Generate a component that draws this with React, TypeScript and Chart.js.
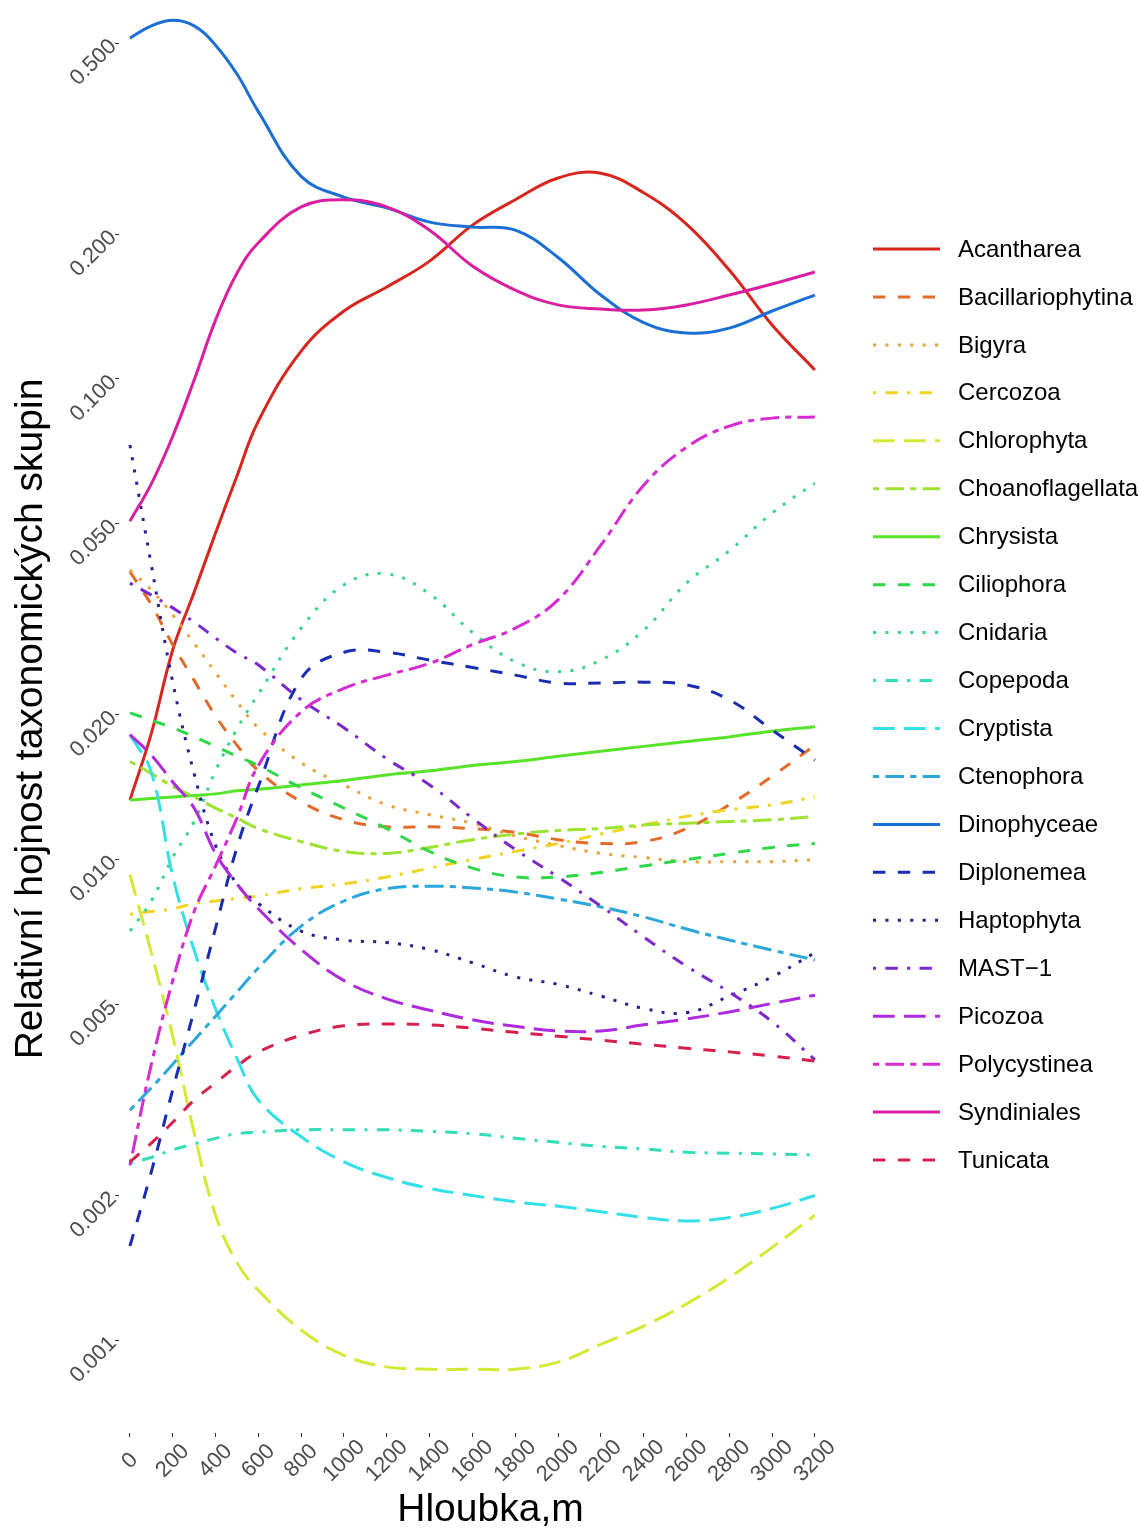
import { useEffect, useRef } from "react";
import { Chart, registerables } from "chart.js";

Chart.register(...registerables);

// Depth (m) at which each smoothed abundance profile is sampled
const depths = [0, 100, 200, 300, 400, 500, 600, 800, 1000, 1200, 1400, 1600, 1800, 2000, 2200, 2400, 2600, 2800, 3000, 3200];

// Relative abundance of each taxonomic group along depth
const acantharea = [0.0133, 0.0183, 0.0273, 0.036, 0.0478, 0.0628, 0.0817, 0.1143, 0.1385, 0.1554, 0.1759, 0.209, 0.236, 0.262, 0.268, 0.244, 0.21, 0.1685, 0.1295, 0.1044];
const bacillariophytina = [0.0397, 0.0339, 0.028, 0.0236, 0.0199, 0.0173, 0.0153, 0.0132, 0.0121, 0.0117, 0.0117, 0.0116, 0.0114, 0.011, 0.0108, 0.0109, 0.0116, 0.013, 0.0149, 0.0173];
const bigyra = [0.04, 0.0364, 0.0323, 0.0282, 0.0245, 0.0213, 0.0188, 0.0159, 0.0143, 0.013, 0.0124, 0.0119, 0.0112, 0.0107, 0.0103, 0.0101, 0.0099, 0.0099, 0.0099, 0.01];
const cercozoa = [0.0077, 0.0078, 0.0079, 0.0081, 0.0082, 0.0083, 0.0084, 0.0087, 0.0089, 0.0092, 0.0096, 0.01, 0.0104, 0.0108, 0.0113, 0.0118, 0.0123, 0.0127, 0.013, 0.0135];
const chlorophyta = [0.0093, 0.0064, 0.00429, 0.0027, 0.00182, 0.00145, 0.00127, 0.00105, 0.00093, 0.00088, 0.00087, 0.00087, 0.00087, 0.0009, 0.00098, 0.00107, 0.00119, 0.00135, 0.00156, 0.00182];
const choanoflagellata = [0.016, 0.0151, 0.0142, 0.0135, 0.0128, 0.0122, 0.0116, 0.0109, 0.0104, 0.0103, 0.0106, 0.011, 0.0113, 0.0115, 0.0116, 0.0118, 0.0119, 0.012, 0.0121, 0.0123];
const chrysista = [0.0133, 0.0134, 0.0135, 0.0136, 0.0137, 0.0139, 0.014, 0.0143, 0.0146, 0.015, 0.0153, 0.0157, 0.016, 0.0164, 0.0168, 0.0172, 0.0176, 0.018, 0.0185, 0.0189];
const ciliophora = [0.0202, 0.0195, 0.0188, 0.018, 0.0172, 0.0164, 0.0157, 0.0141, 0.0128, 0.0116, 0.0104, 0.0096, 0.0092, 0.0092, 0.0094, 0.0097, 0.01, 0.0103, 0.0106, 0.0108];
const cnidaria = [0.0071, 0.0082, 0.0101, 0.012, 0.0153, 0.0187, 0.0221, 0.0303, 0.0373, 0.0393, 0.0357, 0.0297, 0.0258, 0.0246, 0.026, 0.03, 0.0376, 0.0439, 0.0526, 0.0607];
const copepoda = [0.00234, 0.0024, 0.00249, 0.00256, 0.00263, 0.00269, 0.00271, 0.00274, 0.00274, 0.00274, 0.00272, 0.00269, 0.00263, 0.00258, 0.00253, 0.0025, 0.00246, 0.00245, 0.00244, 0.00243];
const cryptista = [0.0182, 0.0152, 0.00924, 0.00648, 0.00489, 0.00386, 0.00316, 0.00265, 0.00235, 0.00218, 0.00207, 0.002, 0.00194, 0.0019, 0.00185, 0.0018, 0.00177, 0.0018, 0.00188, 0.002];
const ctenophora = [0.00301, 0.00335, 0.00375, 0.00421, 0.00472, 0.0053, 0.00595, 0.00727, 0.0082, 0.0087, 0.0088, 0.00873, 0.00856, 0.00828, 0.00797, 0.0076, 0.00717, 0.0068, 0.00648, 0.00618];
const dinophyceae = [0.512, 0.543, 0.558, 0.543, 0.495, 0.431, 0.36, 0.264, 0.239, 0.227, 0.212, 0.207, 0.204, 0.179, 0.1495, 0.131, 0.1246, 0.1276, 0.1385, 0.1495];
const diplonemea = [0.00157, 0.00224, 0.00332, 0.00486, 0.0072, 0.0106, 0.0142, 0.0238, 0.027, 0.027, 0.026, 0.0251, 0.0242, 0.0233, 0.0233, 0.0234, 0.0231, 0.0215, 0.0186, 0.0161];
const haptophyta = [0.0729, 0.041, 0.0234, 0.0151, 0.0107, 0.0089, 0.0081, 0.0071, 0.0068, 0.00672, 0.0065, 0.0061, 0.0057, 0.0055, 0.0052, 0.0049, 0.0048, 0.0052, 0.0057, 0.0064];
const mast1 = [0.0376, 0.0355, 0.0334, 0.0312, 0.0289, 0.0269, 0.0254, 0.0215, 0.0188, 0.0162, 0.0143, 0.0122, 0.0105, 0.0092, 0.008, 0.0069, 0.006, 0.0053, 0.0046, 0.00383];
const picozoa = [0.0182, 0.0165, 0.0145, 0.0128, 0.0103, 0.0089, 0.0079, 0.0065, 0.0056, 0.00513, 0.00486, 0.00464, 0.0045, 0.0044, 0.0044, 0.00453, 0.00466, 0.00482, 0.00502, 0.00522];
const polycystinea = [0.00231, 0.00375, 0.0056, 0.0078, 0.0097, 0.0122, 0.0157, 0.0203, 0.0227, 0.0242, 0.0256, 0.028, 0.0303, 0.0347, 0.0451, 0.0601, 0.0721, 0.0798, 0.0829, 0.0833];
const syndiniales = [0.0506, 0.0605, 0.076, 0.0995, 0.1326, 0.166, 0.192, 0.228, 0.236, 0.228, 0.204, 0.1718, 0.1531, 0.1426, 0.1398, 0.1391, 0.1426, 0.1495, 0.1576, 0.1669];
const tunicata = [0.00235, 0.00257, 0.00284, 0.00316, 0.00343, 0.00372, 0.00398, 0.00431, 0.00451, 0.00455, 0.00453, 0.00446, 0.00437, 0.00429, 0.00421, 0.00413, 0.00405, 0.00398, 0.0039, 0.00381];

const groupNames = [
  "Acantharea", "Bacillariophytina", "Bigyra", "Cercozoa", "Chlorophyta",
  "Choanoflagellata", "Chrysista", "Ciliophora", "Cnidaria", "Copepoda",
  "Cryptista", "Ctenophora", "Dinophyceae", "Diplonemea", "Haptophyta",
  "MAST\u22121", "Picozoa", "Polycystinea", "Syndiniales", "Tunicata",
];
const groupValues = [
  acantharea, bacillariophytina, bigyra, cercozoa, chlorophyta,
  choanoflagellata, chrysista, ciliophora, cnidaria, copepoda,
  cryptista, ctenophora, dinophyceae, diplonemea, haptophyta,
  mast1, picozoa, polycystinea, syndiniales, tunicata,
];
const groupColors = [
  "#D7261E", "#E36B2A", "#E9A23B", "#F0D424", "#D3E935",
  "#9EE232", "#58E22A", "#2ED848", "#37D58C", "#33DDB6",
  "#34E0E6", "#2BA7DC", "#1A6ED4", "#1A2DB0", "#2B1F8E",
  "#7A28CC", "#AE2BDD", "#D62AD2", "#D91FA0", "#D61F4C",
];
const lineTypes = ["solid", "dashed", "dotted", "dotdash", "longdash", "twodash"];

const yTickValues = [0.001, 0.002, 0.005, 0.01, 0.02, 0.05, 0.1, 0.2, 0.5];
const xTickValues = [0, 200, 400, 600, 800, 1000, 1200, 1400, 1600, 1800, 2000, 2200, 2400, 2600, 2800, 3000, 3200];

const FONT = '"Liberation Sans", Arial, Helvetica, sans-serif';
const TICK_COLOR = "#4D4D4D";
const LINE_WIDTH = 3;
const U = 3.1;

function dashFor(type: string): number[] {
  switch (type) {
    case "dashed": return [4 * U, 4 * U];
    case "dotted": return [1 * U, 3 * U];
    case "dotdash": return [1 * U, 3 * U, 4 * U, 3 * U];
    case "longdash": return [7 * U, 3 * U];
    case "twodash": return [2 * U, 2 * U, 6 * U, 2 * U];
    default: return [];
  }
}

// Tick labels of both axes, turned 45 degrees
const slantedTickLabels = {
  id: "slantedTickLabels",
  afterDraw(chart: any) {
    const { ctx } = chart;
    const xs = chart.scales.x;
    const ys = chart.scales.y;
    ctx.save();
    ctx.font = `22px ${FONT}`;
    ctx.fillStyle = TICK_COLOR;
    ctx.textBaseline = "middle";

    // depth labels: centred below their tick marks
    ctx.textAlign = "center";
    xs.ticks.forEach((t: any) => {
      const px = xs.getPixelForValue(t.value);
      ctx.save();
      ctx.translate(px, xs.top + 28);
      ctx.rotate(-Math.PI / 4);
      ctx.fillText(String(t.value), 0, 0);
      ctx.restore();
    });

    // abundance labels: ending just left of their tick marks
    ctx.textAlign = "right";
    ys.ticks.forEach((t: any) => {
      const py = ys.getPixelForValue(t.value);
      ctx.save();
      ctx.translate(ys.right - 6, py);
      ctx.rotate(-Math.PI / 4);
      ctx.fillText(Number(t.value).toFixed(3), 0, 0);
      ctx.restore();
    });
    ctx.restore();
  },
};

// Legend column drawn to the right of the plotting area
const sideLegend = {
  id: "sideLegend",
  afterDraw(chart: any) {
    const { ctx, chartArea } = chart;
    const x0 = chartArea.right + 11;
    const top = 249;
    const step = 47.95;
    ctx.save();
    chart.data.datasets.forEach((ds: any, i: number) => {
      const y = top + i * step;
      ctx.beginPath();
      ctx.setLineDash(ds.borderDash || []);
      ctx.lineCap = "butt";
      ctx.lineWidth = ds.borderWidth;
      ctx.strokeStyle = ds.borderColor;
      ctx.moveTo(x0, y);
      ctx.lineTo(x0 + 67, y);
      ctx.stroke();
      ctx.setLineDash([]);
      ctx.fillStyle = "#000000";
      ctx.font = `24px ${FONT}`;
      ctx.textBaseline = "middle";
      ctx.textAlign = "left";
      ctx.fillText(ds.label, x0 + 85, y + 1);
    });
    ctx.restore();
  },
};

export default function App() {
  const canvasRef = useRef<HTMLCanvasElement | null>(null);

  useEffect(() => {
    document.body.style.margin = "0";
    const canvas = canvasRef.current;
    if (!canvas) return;

    const datasets = groupNames.map((name, i) => ({
      label: name,
      data: depths.map((d, k) => ({ x: d, y: groupValues[i][k] })),
      borderColor: groupColors[i],
      backgroundColor: groupColors[i],
      borderWidth: LINE_WIDTH,
      borderDash: dashFor(lineTypes[i % lineTypes.length]),
      borderCapStyle: "butt" as const,
      pointRadius: 0,
      pointHoverRadius: 0,
      fill: false,
      tension: 0.4,
      order: groupNames.length - i,
    }));

    const tickGrid = {
      display: true,
      drawOnChartArea: false,
      drawTicks: true,
      tickLength: 4,
      tickColor: "#333333",
      tickWidth: 1,
    };

    const chart = new Chart(canvas, {
      type: "line",
      data: { datasets },
      plugins: [slantedTickLabels, sideLegend],
      options: {
        animation: false,
        responsive: false,
        maintainAspectRatio: false,
        layout: { padding: { left: 0, right: 279, top: 5, bottom: 0 } },
        plugins: {
          legend: { display: false },
          tooltip: { enabled: false },
        },
        scales: {
          x: {
            type: "linear",
            bounds: "data",
            min: -51,
            max: 3420,
            afterBuildTicks: (scale: any) => {
              scale.ticks = xTickValues.map((v) => ({ value: v }));
            },
            afterFit: (scale: any) => {
              scale.height = 97;
              scale.paddingLeft = 0;
              scale.paddingRight = 0;
            },
            ticks: { display: false, autoSkip: false },
            grid: tickGrid,
            border: { display: false },
            title: {
              display: true,
              text: "Hloubka,m",
              color: "#000000",
              font: { family: FONT, size: 39, lineHeight: 1 },
              padding: { top: 0, bottom: 0 },
            },
          },
          y: {
            type: "logarithmic",
            bounds: "data",
            min: 0.000641,
            max: 0.6,
            afterBuildTicks: (scale: any) => {
              scale.ticks = yTickValues.map((v) => ({ value: v }));
            },
            afterFit: (scale: any) => {
              scale.width = 119;
              scale.paddingTop = 0;
              scale.paddingBottom = 0;
            },
            ticks: { display: false },
            grid: tickGrid,
            border: { display: false },
            title: {
              display: true,
              text: "Relativní hojnost taxonomických skupin",
              color: "#000000",
              font: { family: FONT, size: 39, lineHeight: 1 },
              padding: { top: 12, bottom: 0 },
            },
          },
        },
      },
    });

    return () => {
      chart.destroy();
    };
  }, []);

  return (
    <div style={{ position: "absolute", left: 0, top: 0, width: 1141, height: 1530, background: "#ffffff" }}>
      <canvas ref={canvasRef} width={1141} height={1530} style={{ display: "block" }} />
    </div>
  );
}
